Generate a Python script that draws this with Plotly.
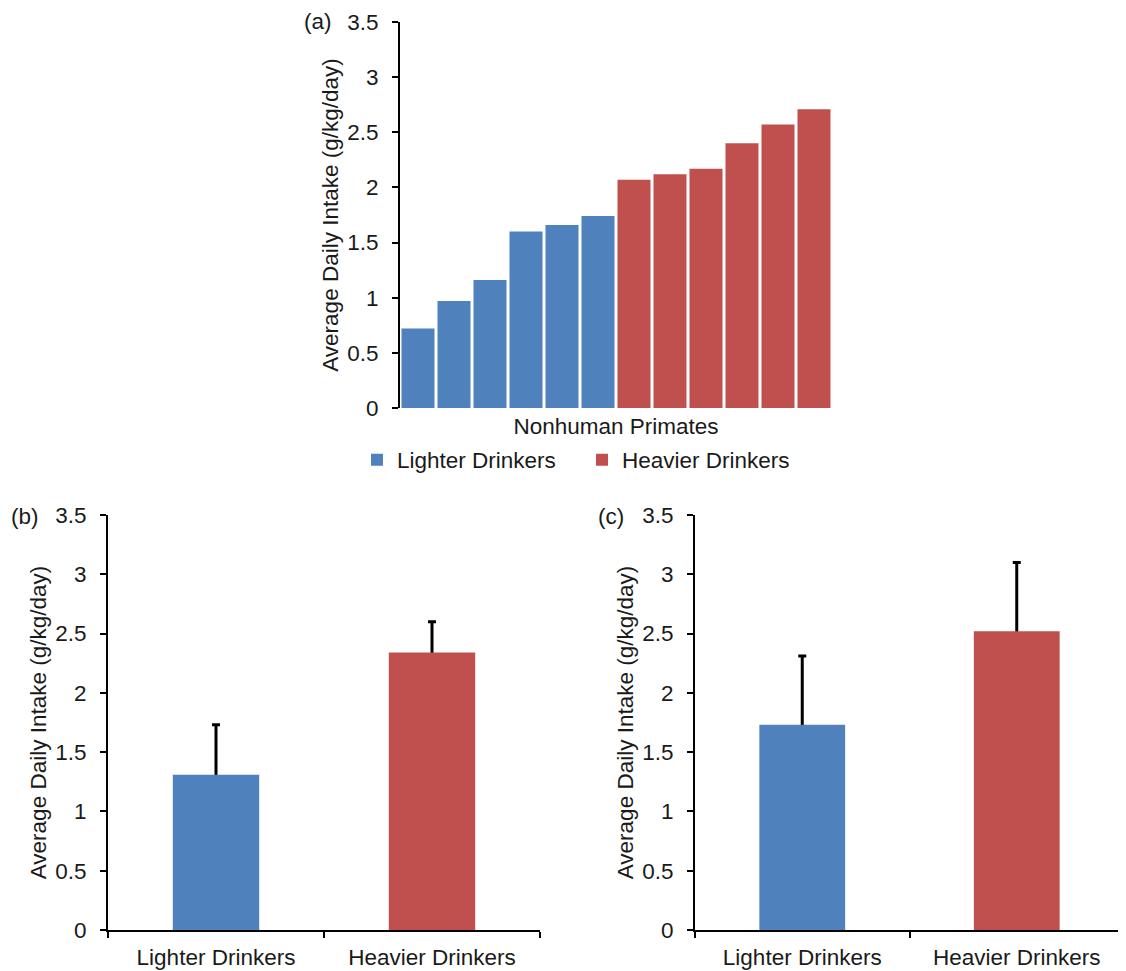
import plotly.graph_objects as go

# ---------------- data ----------------
primates_light = [1, 2, 3, 4, 5, 6]
primates_heavy = [7, 8, 9, 10, 11, 12]
intake_light = [0.72, 0.97, 1.16, 1.60, 1.66, 1.74]
intake_heavy = [2.07, 2.12, 2.17, 2.40, 2.57, 2.71]

groups = ["Lighter Drinkers", "Heavier Drinkers"]
b_means = [1.31, 2.34]
b_err = [0.42, 0.26]
c_means = [1.73, 2.52]
c_err = [0.58, 0.58]

y_ticks = [0, 0.5, 1, 1.5, 2, 2.5, 3, 3.5]
y_tick_text = ["0", "0.5", "1", "1.5", "2", "2.5", "3", "3.5"]

BLUE = "#4F81BD"
RED = "#C0504D"
FONT = "Liberation Sans, Arial, sans-serif"
TXT = "#1a1a1a"
FS = 22.5
W, H = 1126, 971
OFF = 8  # page body margin offset


def px(x):
    return (x - OFF) / W


def py(y):
    return 1 - (y - OFF) / H


def xd(a, b):
    return [px(a), px(b)]


def yd(top, bottom):
    return [py(bottom), py(top)]


fig = go.Figure()

# panel (a)
fig.add_trace(go.Bar(x=primates_light, y=intake_light, name="Lighter Drinkers",
                     marker=dict(color=BLUE, line=dict(width=0)),
                     xaxis="x", yaxis="y", showlegend=True))
fig.add_trace(go.Bar(x=primates_heavy, y=intake_heavy, name="Heavier Drinkers",
                     marker=dict(color=RED, line=dict(width=0)),
                     xaxis="x", yaxis="y", showlegend=True))

# panels (b) and (c): error bars (hidden bar) then visible bars on top
for means, err, xa, ya in [(b_means, b_err, "x2", "y2"), (c_means, c_err, "x3", "y3")]:
    fig.add_trace(go.Bar(x=groups, y=means, width=0.4,
                         marker=dict(color="rgba(0,0,0,0)", line=dict(width=0)),
                         error_y=dict(type="data", array=err, symmetric=True,
                                      color="black", thickness=3, width=4),
                         xaxis=xa, yaxis=ya, showlegend=False, hoverinfo="skip"))
    fig.add_trace(go.Bar(x=groups, y=means, width=0.4,
                         marker=dict(color=[BLUE, RED], line=dict(width=0)),
                         xaxis=xa, yaxis=ya, showlegend=False))


def yaxis_cfg(top, bottom, anchor):
    return dict(domain=yd(top, bottom), anchor=anchor, automargin=False,
                range=[0, 3.5], tickvals=y_ticks, ticktext=y_tick_text,
                showgrid=False, zeroline=False, showline=True,
                linecolor="black", linewidth=2, ticks="outside",
                ticklen=6, tickwidth=2, tickcolor="black",
                ticklabelstandoff=9,
                tickfont=dict(family=FONT, size=FS, color=TXT),
                title=dict(text="Average Daily Intake (g/kg/day)",
                           font=dict(family=FONT, size=FS, color=TXT),
                           standoff=2))


def xcat_cfg(left, right, anchor):
    return dict(domain=xd(left, right), anchor=anchor, type="category",
                automargin=False, showgrid=False, zeroline=False,
                showline=True, linecolor="black", linewidth=2,
                ticks="outside", tickson="boundaries", ticklen=6,
                tickwidth=2, tickcolor="black", ticklabelstandoff=6,
                tickfont=dict(family=FONT, size=FS, color=TXT))


fig.update_layout(
    width=W, height=H,
    margin=dict(l=0, r=0, t=0, b=0, autoexpand=False),
    paper_bgcolor="white", plot_bgcolor="white",
    barmode="overlay",
    bargap=0.083,
    font=dict(family=FONT, color=TXT),
    xaxis=dict(domain=xd(400, 832), anchor="y", range=[0.5, 12.5],
               automargin=False, showticklabels=False,
               showgrid=False, zeroline=False, showline=False, ticks="",
               title=dict(text="Nonhuman Primates",
                          font=dict(family=FONT, size=FS, color=TXT),
                          standoff=10)),
    yaxis=yaxis_cfg(22, 408, "x"),
    xaxis2=xcat_cfg(108, 540, "y2"),
    yaxis2=yaxis_cfg(515, 930, "x2"),
    xaxis3=xcat_cfg(695, 1124, "y3"),
    yaxis3=yaxis_cfg(515, 930, "x3"),
    legend=dict(orientation="h", x=px(357), xanchor="left",
                y=py(460), yanchor="middle",
                font=dict(family=FONT, size=FS, color=TXT),
                bgcolor="rgba(0,0,0,0)", itemwidth=30,
                entrywidth=180, entrywidthmode="pixels"),
    annotations=[
        dict(text="(a)", x=px(318), y=py(22), xref="paper", yref="paper",
             xanchor="center", yanchor="middle",
             showarrow=False, font=dict(family=FONT, size=FS, color=TXT)),
        dict(text="(b)", x=px(25), y=py(517), xref="paper", yref="paper",
             xanchor="center", yanchor="middle",
             showarrow=False, font=dict(family=FONT, size=FS, color=TXT)),
        dict(text="(c)", x=px(611), y=py(517), xref="paper", yref="paper",
             xanchor="center", yanchor="middle",
             showarrow=False, font=dict(family=FONT, size=FS, color=TXT)),
    ],
)

fig.write_html("out.html")
